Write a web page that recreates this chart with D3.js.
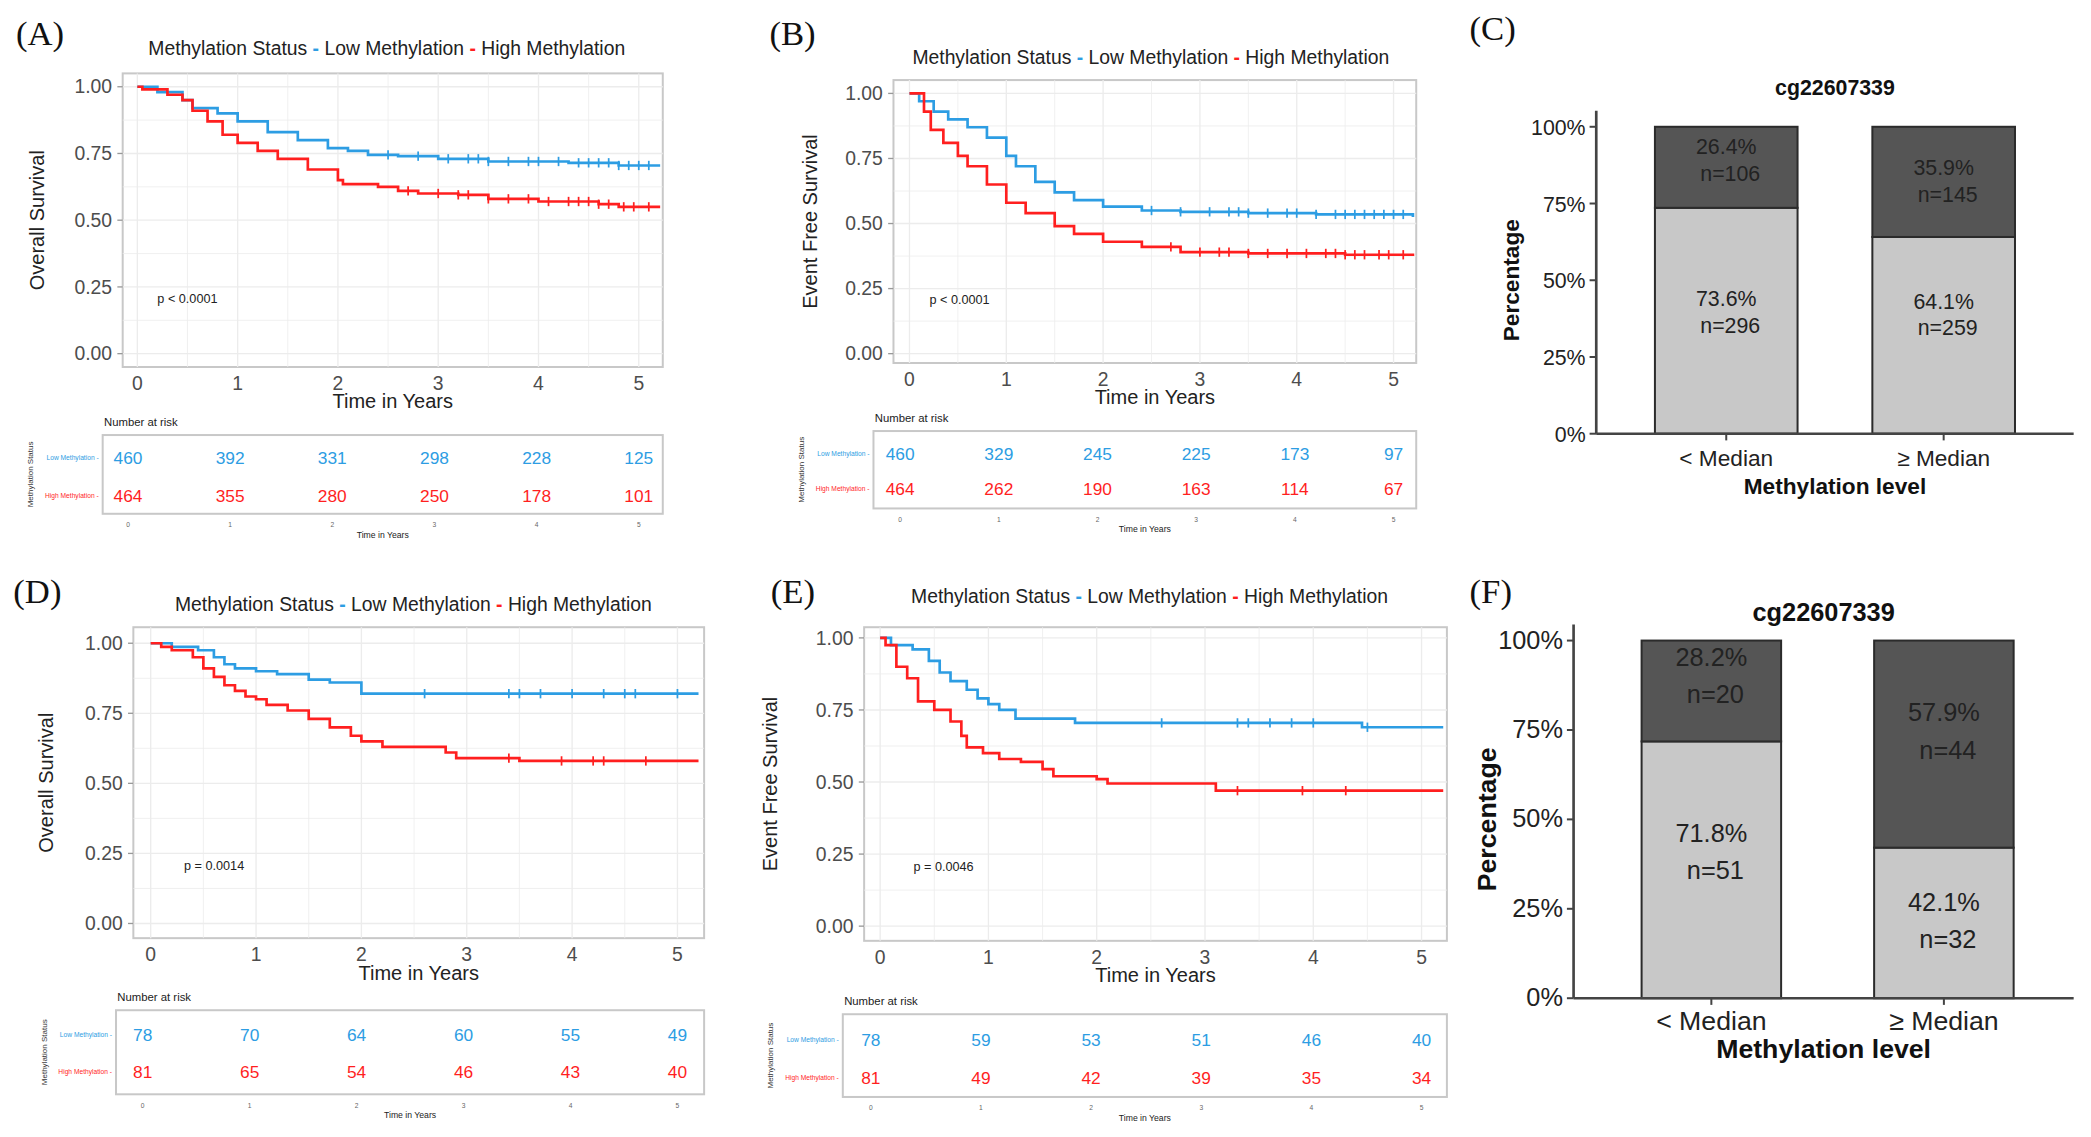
<!DOCTYPE html>
<html><head><meta charset="utf-8">
<script src="https://cdn.jsdelivr.net/npm/d3@7"></script>
<style>
  body { margin: 0; background: #fff; }
  svg { display: block; font-family: "Liberation Sans", Arial, sans-serif; }
</style></head>
<body>
<svg id="fig" width="2091" height="1137" viewBox="0 0 1568 852" preserveAspectRatio="none"></svg>
<script>
// ---- data ----
const years = [0, 1, 2, 3, 4, 5];
const survTicks = [0, 0.25, 0.5, 0.75, 1];

const aLow  = [[0,1],[0.2,0.98],[0.45,0.95],[0.55,0.92],[0.8,0.9],[1,0.87],[1.3,0.83],[1.6,0.8],[1.9,0.77],[2.1,0.76],[2.3,0.745],[2.6,0.74],[3,0.73],[3.5,0.72],[4.3,0.715],[4.8,0.705],[5.2,0.7]];
const aHigh = [[0,1],[0.05,0.99],[0.3,0.97],[0.45,0.95],[0.55,0.91],[0.7,0.87],[0.85,0.82],[1,0.79],[1.2,0.76],[1.4,0.73],[1.7,0.69],[2,0.65],[2.05,0.635],[2.4,0.625],[2.6,0.61],[2.8,0.6],[3.2,0.595],[3.5,0.58],[4,0.57],[4.6,0.56],[4.8,0.55],[5.2,0.545]];
const bLow  = [[0,1],[0.1,0.97],[0.25,0.93],[0.4,0.9],[0.6,0.87],[0.8,0.83],[1,0.76],[1.1,0.72],[1.3,0.66],[1.5,0.62],[1.7,0.59],[2,0.565],[2.4,0.55],[2.8,0.545],[3.5,0.54],[4.2,0.535],[5.2,0.525]];
const bHigh = [[0,1],[0.15,0.93],[0.22,0.86],[0.35,0.81],[0.5,0.76],[0.6,0.72],[0.8,0.65],[1,0.58],[1.2,0.54],[1.5,0.49],[1.7,0.46],[2,0.43],[2.4,0.41],[2.8,0.39],[3.5,0.385],[4.5,0.38],[5.2,0.375]];
const dLow  = [[0,1],[0.2,0.987],[0.45,0.975],[0.6,0.95],[0.7,0.925],[0.8,0.91],[1,0.9],[1.2,0.89],[1.5,0.87],[1.7,0.86],[2,0.82],[5.2,0.82]];
const dHigh = [[0,1],[0.1,0.987],[0.2,0.975],[0.4,0.95],[0.5,0.91],[0.6,0.88],[0.7,0.85],[0.8,0.83],[0.9,0.81],[1,0.8],[1.1,0.78],[1.3,0.76],[1.5,0.73],[1.7,0.7],[1.9,0.67],[2,0.65],[2.2,0.63],[2.8,0.61],[2.9,0.59],[3.5,0.58],[5.2,0.58]];
const eLow  = [[0,1],[0.1,0.975],[0.3,0.96],[0.45,0.92],[0.55,0.88],[0.65,0.85],[0.8,0.82],[0.9,0.79],[1,0.77],[1.1,0.75],[1.25,0.72],[1.8,0.705],[4.45,0.69],[5.2,0.69]];
const eHigh = [[0,1],[0.05,0.975],[0.15,0.9],[0.25,0.86],[0.35,0.78],[0.5,0.75],[0.65,0.71],[0.75,0.66],[0.8,0.62],[0.95,0.6],[1.1,0.58],[1.3,0.57],[1.5,0.545],[1.6,0.52],[2,0.51],[2.1,0.495],[3,0.495],[3.1,0.47],[5.2,0.47]];

const censorBigLow  = [2.5, 2.8, 3.1, 3.3, 3.4, 3.5, 3.7, 3.9, 4.0, 4.2, 4.4, 4.5, 4.6, 4.7, 4.8, 4.9, 5.0, 5.1];
const censorBigHigh = [2.7, 3.0, 3.2, 3.3, 3.5, 3.7, 3.9, 4.1, 4.3, 4.4, 4.5, 4.6, 4.7, 4.85, 4.95, 5.1];
const censorDLow  = [2.6, 3.4, 3.5, 3.7, 4.0, 4.3, 4.5, 4.6, 5.0];
const censorDHigh = [3.4, 3.9, 4.2, 4.3, 4.7];
const censorELow  = [2.6, 3.3, 3.4, 3.6, 3.8, 4.0, 4.5];
const censorEHigh = [3.3, 3.9, 4.3];

const riskA = { low: [460, 392, 331, 298, 228, 125], high: [464, 355, 280, 250, 178, 101] };
const riskB = { low: [460, 329, 245, 225, 173, 97],  high: [464, 262, 190, 163, 114, 67] };
const riskD = { low: [78, 70, 64, 60, 55, 49],       high: [81, 65, 54, 46, 43, 40] };
const riskE = { low: [78, 59, 53, 51, 46, 40],       high: [81, 49, 42, 39, 35, 34] };

const groups = ["< Median", "≥ Median"];
const pctTicks = [0, 25, 50, 75, 100];
const cLowPct = [73.6, 64.1], cLowN = [296, 259];
const cHighPct = [26.4, 35.9], cHighN = [106, 145];
const fLowPct = [71.8, 42.1], fLowN = [51, 32];
const fHighPct = [28.2, 57.9], fHighN = [20, 44];

const BLUE = "#2d9de3", RED = "#ff1f1f";
const svg = d3.select("#fig");

function stepAt(pts, t) {
  let v = pts[0][1];
  for (const p of pts) if (p[0] <= t) v = p[1];
  return v;
}

function km(c) {
  const g = svg.append("g");
  const x = d3.scaleLinear().domain([0, 5]).range([c.x0, c.x5]);
  const y = d3.scaleLinear().domain([0, 1]).range([c.y0, c.y1]);
  // panel
  g.append("rect").attr("x", c.L).attr("y", c.T).attr("width", c.R - c.L).attr("height", c.B - c.T)
    .attr("fill", "#fff").attr("stroke", "#c8c8c8").attr("stroke-width", 1.5);
  const minorY = [0.125, 0.375, 0.625, 0.875];
  g.selectAll(".gy").data(survTicks.concat(minorY)).join("line")
    .attr("x1", c.L).attr("x2", c.R).attr("y1", y).attr("y2", y)
    .attr("stroke", "#ececec").attr("stroke-width", d => minorY.includes(d) ? 0.6 : 1);
  g.selectAll(".gx").data(years.concat([0.5, 1.5, 2.5, 3.5, 4.5])).join("line")
    .attr("y1", c.T).attr("y2", c.B).attr("x1", x).attr("x2", x)
    .attr("stroke", "#ececec").attr("stroke-width", d => Number.isInteger(d) ? 1 : 0.6);
  // axes
  g.selectAll(".ty").data(survTicks).join("text")
    .attr("x", c.L - 8).attr("y", d => y(d) + 5).attr("text-anchor", "end")
    .attr("font-size", 14.5).attr("fill", "#4d4d4d").text(d => d.toFixed(2));
  g.selectAll(".tky").data(survTicks).join("line")
    .attr("x1", c.L - 4).attr("x2", c.L).attr("y1", y).attr("y2", y).attr("stroke", "#999");
  g.selectAll(".tx").data(years).join("text")
    .attr("x", x).attr("y", c.B + 17).attr("text-anchor", "middle")
    .attr("font-size", 14.5).attr("fill", "#4d4d4d").text(d => d);
  g.append("text").attr("x", (c.L + c.R) / 2).attr("y", c.B + 31).attr("text-anchor", "middle")
    .attr("font-size", 15).attr("fill", "#222").text("Time in Years");
  g.append("text").attr("transform", `translate(${c.ylabX},${(c.T + c.B) / 2}) rotate(-90)`)
    .attr("text-anchor", "middle").attr("font-size", 15).attr("fill", "#222").text(c.ylab);
  // legend title
  const lg = g.append("text").attr("x", c.legX).attr("y", c.legY).attr("text-anchor", "middle")
    .attr("font-size", 14.5).attr("fill", "#222");
  lg.append("tspan").text("Methylation Status ");
  lg.append("tspan").attr("fill", BLUE).attr("font-weight", "bold").text("-");
  lg.append("tspan").text(" Low Methylation ");
  lg.append("tspan").attr("fill", RED).attr("font-weight", "bold").text("-");
  lg.append("tspan").text(" High Methylation");
  // curves
  const line = d3.line().x(d => x(d[0])).y(d => y(d[1])).curve(d3.curveStepAfter);
  [[c.low, BLUE, c.cLow], [c.high, RED, c.cHigh]].forEach(([pts, col, cens]) => {
    g.append("path").attr("d", line(pts)).attr("fill", "none").attr("stroke", col).attr("stroke-width", 2);
    g.selectAll(null).data(cens).join("line")
      .attr("x1", d => x(d)).attr("x2", d => x(d))
      .attr("y1", d => y(stepAt(pts, d)) - 3.5).attr("y2", d => y(stepAt(pts, d)) + 3.5)
      .attr("stroke", col).attr("stroke-width", 1.3);
  });
  g.append("text").attr("x", x(0) + c.pdx).attr("y", y(0.19)).attr("font-size", 9.5).attr("fill", "#222").text(c.p);
  // risk table
  const r = c.risk;
  g.append("text").attr("x", r.L + 1).attr("y", r.T - 7).attr("font-size", 8.5).attr("fill", "#222").text("Number at risk");
  g.append("rect").attr("x", r.L).attr("y", r.T).attr("width", c.R - r.L).attr("height", r.B - r.T)
    .attr("fill", "#fff").attr("stroke", "#c8c8c8").attr("stroke-width", 1.5);
  const rx = d3.scaleLinear().domain([0, 5]).range([r.x0, r.x5]);
  [[c.risk.low, BLUE, r.yLow, "Low Methylation"], [c.risk.high, RED, r.yHigh, "High Methylation"]].forEach(([vals, col, yy, lab]) => {
    g.selectAll(null).data(vals).join("text")
      .attr("x", (d, i) => rx(i)).attr("y", yy + 5).attr("text-anchor", "middle")
      .attr("font-size", 13).attr("fill", col).text(d => d);
    g.append("text").attr("x", r.L - 3).attr("y", yy + 2).attr("text-anchor", "end")
      .attr("font-size", 5).attr("fill", col).text(lab + " -");
  });
  g.append("text").attr("transform", `translate(${r.L - 52},${(r.T + r.B) / 2}) rotate(-90)`)
    .attr("text-anchor", "middle").attr("font-size", 6).attr("fill", "#333").text("Methylation Status");
  g.selectAll(null).data(years).join("text")
    .attr("x", rx).attr("y", r.B + 10).attr("text-anchor", "middle").attr("font-size", 5).attr("fill", "#666").text(d => d);
  g.append("text").attr("x", (r.L + c.R) / 2).attr("y", r.B + 18).attr("text-anchor", "middle")
    .attr("font-size", 6.5).attr("fill", "#222").text("Time in Years");
  // panel letter
  svg.append("text").attr("x", c.tagX).attr("y", c.tagY).attr("font-family", "Liberation Serif, serif")
    .attr("font-size", 26).attr("fill", "#111").text(c.tag);
}

function bars(c) {
  const g = svg.append("g");
  const x = d3.scaleBand().domain(groups).range([c.barL, c.barR]).paddingInner(c.pad).paddingOuter(0);
  const y = d3.scaleLinear().domain([0, 100]).range([c.y0, c.y100]);
  groups.forEach((grp, i) => {
    const segs = [[0, c.lowPct[i], "#c8c8c8"], [c.lowPct[i], 100, "#555555"]];
    segs.forEach(([a, b, fill]) => {
      g.append("rect").attr("x", x(grp)).attr("width", x.bandwidth())
        .attr("y", y(b)).attr("height", y(a) - y(b))
        .attr("fill", fill).attr("stroke", "#2b2b2b").attr("stroke-width", 1.5);
    });
    const cx = x(grp) + x.bandwidth() / 2;
    const lowMid = y(c.lowPct[i] / 2) + c.lowOff[i], highMid = y(c.lowPct[i] + c.highPct[i] / 2) + c.highOff[i];
    [[lowMid, c.lowPct[i], c.lowN[i]], [highMid, c.highPct[i], c.highN[i]]].forEach(([yy, p, n]) => {
      g.append("text").attr("x", cx).attr("y", yy - c.gap / 2 + 5).attr("text-anchor", "middle")
        .attr("font-size", c.fs).attr("fill", "#222").text(p.toFixed(1) + "%");
      g.append("text").attr("x", cx + 3).attr("y", yy + c.gap / 2 + 5).attr("text-anchor", "middle")
        .attr("font-size", c.fs).attr("fill", "#222").text("n=" + n);
    });
  });
  // axes
  g.append("line").attr("x1", c.ax).attr("x2", c.ax).attr("y1", c.y0).attr("y2", c.y100 - 12).attr("stroke", "#444").attr("stroke-width", 2);
  g.append("line").attr("x1", c.ax).attr("x2", c.xEnd).attr("y1", c.y0).attr("y2", c.y0).attr("stroke", "#444").attr("stroke-width", 2);
  g.selectAll(null).data(pctTicks).join("line")
    .attr("x1", c.ax - 5).attr("x2", c.ax).attr("y1", y).attr("y2", y).attr("stroke", "#444").attr("stroke-width", 1.5);
  g.selectAll(null).data(pctTicks).join("text")
    .attr("x", c.ax - 8).attr("y", d => y(d) + 6).attr("text-anchor", "end")
    .attr("font-size", c.fs).attr("fill", "#222").text(d => d + "%");
  groups.forEach(grp => {
    const cx = x(grp) + x.bandwidth() / 2;
    g.append("line").attr("x1", cx).attr("x2", cx).attr("y1", c.y0).attr("y2", c.y0 + 5).attr("stroke", "#444").attr("stroke-width", 1.5);
    g.append("text").attr("x", cx).attr("y", c.y0 + 24).attr("text-anchor", "middle")
      .attr("font-size", c.fs + 1).attr("fill", "#222").text(grp);
  });
  g.append("text").attr("x", (c.ax + c.xEnd) / 2).attr("y", c.y0 + 45).attr("text-anchor", "middle")
    .attr("font-size", c.fs + 1).attr("font-weight", "bold").attr("fill", "#111").text("Methylation level");
  g.append("text").attr("x", (c.ax + c.xEnd) / 2).attr("y", c.titleY).attr("text-anchor", "middle")
    .attr("font-size", c.fs).attr("font-weight", "bold").attr("fill", "#111").text("cg22607339");
  g.append("text").attr("transform", `translate(${c.ax - 58},${(c.y0 + c.y100) / 2}) rotate(-90)`)
    .attr("text-anchor", "middle").attr("font-size", c.fs + 1).attr("font-weight", "bold").attr("fill", "#111").text("Percentage");
  svg.append("text").attr("x", c.tagX).attr("y", c.tagY).attr("font-family", "Liberation Serif, serif")
    .attr("font-size", 26).attr("fill", "#111").text(c.tag);
}

km({ tag: "(A)", tagX: 12, tagY: 34, L: 92, R: 497, T: 55, B: 275, x0: 103, x5: 479, y0: 265, y1: 65,
  ylab: "Overall Survival", ylabX: 33, legX: 290, legY: 41, low: aLow, high: aHigh,
  cLow: censorBigLow, cHigh: censorBigHigh, p: "p < 0.0001", pdx: 15,
  risk: Object.assign({ L: 77, T: 326, B: 385, x0: 96, x5: 479, yLow: 343, yHigh: 371 }, riskA) });
km({ tag: "(B)", tagX: 577, tagY: 34, L: 670, R: 1062, T: 60, B: 272, x0: 682, x5: 1045, y0: 265, y1: 70,
  ylab: "Event Free Survival", ylabX: 613, legX: 863, legY: 48, low: bLow, high: bHigh,
  cLow: censorBigLow, cHigh: censorBigHigh, p: "p < 0.0001", pdx: 15,
  risk: Object.assign({ L: 655, T: 323, B: 381, x0: 675, x5: 1045, yLow: 340, yHigh: 366 }, riskB) });
km({ tag: "(D)", tagX: 10, tagY: 452, L: 100, R: 528, T: 470, B: 703, x0: 113, x5: 508, y0: 692, y1: 482,
  ylab: "Overall Survival", ylabX: 40, legX: 310, legY: 458, low: dLow, high: dHigh,
  cLow: censorDLow, cHigh: censorDHigh, p: "p = 0.0014", pdx: 25,
  risk: Object.assign({ L: 87, T: 757, B: 820, x0: 107, x5: 508, yLow: 775, yHigh: 803 }, riskD) });
km({ tag: "(E)", tagX: 578, tagY: 452, L: 648, R: 1085, T: 470, B: 705, x0: 660, x5: 1066, y0: 694, y1: 478,
  ylab: "Event Free Survival", ylabX: 583, legX: 862, legY: 452, low: eLow, high: eHigh,
  cLow: censorELow, cHigh: censorEHigh, p: "p = 0.0046", pdx: 25,
  risk: Object.assign({ L: 632, T: 760, B: 822, x0: 653, x5: 1066, yLow: 779, yHigh: 807 }, riskE) });

bars({ tag: "(C)", tagX: 1102, tagY: 30, ax: 1197, xEnd: 1555, y0: 325, y100: 95, titleY: 71, fs: 16, gap: 20,
  barL: 1241, barR: 1511, pad: 0.344,
  lowPct: cLowPct, lowN: cLowN, highPct: cHighPct, highN: cHighN, lowOff: [-6, -15], highOff: [-5, 0] });
bars({ tag: "(F)", tagX: 1102, tagY: 452, ax: 1180, xEnd: 1555, y0: 748, y100: 480, titleY: 465, fs: 19, gap: 28,
  barL: 1231, barR: 1510, pad: 0.4,
  lowPct: fLowPct, lowN: fLowN, highPct: fHighPct, highN: fHighN, lowOff: [-12, 0], highOff: [-10, -8] });
</script>
</body></html>
